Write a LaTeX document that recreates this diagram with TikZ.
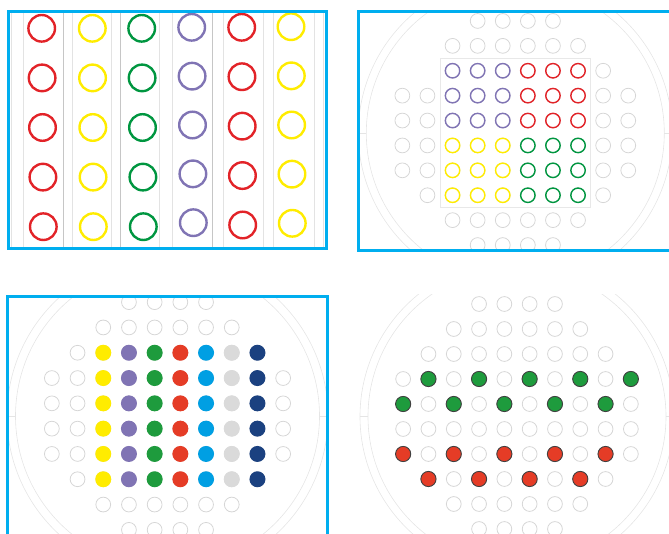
\documentclass[tikz,border=0pt]{standalone}
\usepackage{xcolor}
\usepackage{tikz}

\definecolor{framecyan}{RGB}{0,174,239}
\definecolor{ringred}{RGB}{226,35,40}
\definecolor{ringyellow}{RGB}{255,236,0}
\definecolor{ringgreen}{RGB}{0,150,64}
\definecolor{ringpurple}{RGB}{128,116,180}
\definecolor{dotyellow}{RGB}{255,236,0}
\definecolor{dotgreen}{RGB}{30,155,61}
\definecolor{dotred}{RGB}{229,60,38}
\definecolor{dotblue}{RGB}{0,159,227}
\definecolor{dotgrey}{RGB}{218,218,218}
\definecolor{dotnavy}{RGB}{27,65,128}

% 76 wells in rows of 4,6,8,10,10,10,10,8,6,4
\def\skipwell{-1}
\newcommand{\wellgrid}{%
  \foreach \r/\n in {0/4,1/6,2/8,3/10,4/10,5/10,6/10,7/8,8/6,9/4}{
    \pgfmathtruncatemacro{\cfirst}{(10-\n)/2}
    \pgfmathtruncatemacro{\clast}{\cfirst+\n-1}
    \foreach \c in {\cfirst,...,\clast}{
      \ifnum\numexpr10*\r+\c\relax=\skipwell\relax\else
        \draw[well] (\c-4.5,\r-4.5) circle[radius=7.4pt];
      \fi}
  }}
\newcommand{\platerim}[2]{%
  \draw[rim] (0pt,0pt) circle[radius=#1pt];
  \draw[rim] (0pt,0pt) circle[radius=#2pt];
  \draw[rim] (-#1pt,0pt) -- (-#2pt,0pt);
  \draw[rim] (#1pt,0pt) -- (#2pt,0pt);}

\begin{document}
\begin{tikzpicture}[x=1pt, y=-1pt,
    frame/.style={draw=framecyan, line width=3pt},
    lane/.style={draw=gray!22, line width=0.6pt},
    darklane/.style={draw=gray!45, line width=0.6pt},
    ring/.style={line width=2.4pt},
    thinring/.style={line width=1.4pt},
    rim/.style={draw=gray!20, line width=0.6pt},
    well/.style={draw=gray!32, line width=0.8pt},
    spot/.style={draw=black!75, line width=0.9pt}
]
\useasboundingbox (0,0) rectangle (669,534);
\clip (0,0) rectangle (669,534);

% lanes with rings
\foreach \x in {11.7,23.3,72.7,111.7,159.3,172.7,223.3,263.3,273.3,314,323.3}
  \draw[lane] (\x,11.5) -- (\x,248.8);
\foreach \x in {63.3,120.7,212.7}
  \draw[darklane] (\x,11.5) -- (\x,248.8);
\foreach \clr/\xa/\xb/\ya/\yb in {ringred/41.7/43.3/28.3/226.7, ringyellow/92.3/93.3/28.3/226.7,
    ringgreen/141.7/143.3/28.3/226.7, ringpurple/191.7/193.3/27.3/222.7,
    ringred/241.7/242.7/27.3/225, ringyellow/291/292.3/26.7/223.3}
  \foreach \j in {0,...,4}
    \draw[ring, draw=\clr] ({\xa+\j*(\xb-\xa)/4},{\ya+\j*(\yb-\ya)/4}) circle[radius=13.3pt];
\draw[frame] (8.7,11.5) rectangle (326.3,248.8);

% plate with 6x6 ring block
\begin{scope}
\clip (358.8,11.8) rectangle (680,250.5);
\begin{scope}[shift={(515.3,133)}, x=25.1pt, y=-24.9pt]
  \def\skipwell{21}
  \platerim{149}{157}
  \draw[draw=gray!18, line width=0.7pt] (-3,-3) rectangle (3,3);
  \wellgrid
  \foreach \r in {2,3,4}{
    \foreach \c in {2,3,4} \draw[thinring, draw=ringpurple, fill=white] (\c-4.5,\r-4.5) circle[radius=7.2pt];
    \foreach \c in {5,6,7} \draw[thinring, draw=ringred, fill=white] (\c-4.5,\r-4.5) circle[radius=7.2pt];}
  \foreach \r in {5,6,7}{
    \foreach \c in {2,3,4} \draw[thinring, draw=ringyellow, fill=white] (\c-4.5,\r-4.5) circle[radius=7.2pt];
    \foreach \c in {5,6,7} \draw[thinring, draw=ringgreen, fill=white] (\c-4.5,\r-4.5) circle[radius=7.2pt];}
\end{scope}
\end{scope}
\draw[frame] (358.8,11.8) rectangle (680,250.5);

% plate with seven filled columns
\begin{scope}
\clip (7.2,296.2) rectangle (327.8,545);
\begin{scope}[shift={(167.5,416)}, x=25.7pt, y=-25.3pt]
  \platerim{152}{160.5}
  \wellgrid
  \foreach \clr [count=\c from 2] in {dotyellow,ringpurple,dotgreen,dotred,dotblue,dotgrey,dotnavy}
    \foreach \r in {2,...,7}
      \fill[\clr] (\c-4.5,\r-4.5) circle[radius=8pt];
\end{scope}
\end{scope}
\draw[frame] (7.2,296.2) rectangle (327.8,545);

% plate with alternating spots
\begin{scope}
\clip (335,295) rectangle (669,534);
\begin{scope}[shift={(517,416.5)}, x=25.3pt, y=-25pt]
  \platerim{149}{157}
  \wellgrid
  \foreach \c in {1,3,5,7,9} \draw[spot, fill=dotgreen] (\c-4.5,-1.5) circle[radius=7.6pt];
  \foreach \c in {0,2,4,6,8} \draw[spot, fill=dotgreen] (\c-4.5,-0.5) circle[radius=7.6pt];
  \foreach \c in {0,2,4,6,8} \draw[spot, fill=dotred] (\c-4.5,1.5) circle[radius=7.6pt];
  \foreach \c in {1,3,5,7} \draw[spot, fill=dotred] (\c-4.5,2.5) circle[radius=7.6pt];
\end{scope}
\end{scope}
\end{tikzpicture}
\end{document}
